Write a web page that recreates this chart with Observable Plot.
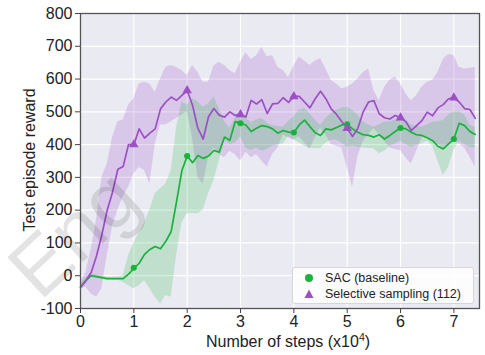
<!DOCTYPE html>
<html><head><meta charset="utf-8">
<script src="https://cdn.jsdelivr.net/npm/d3@7"></script>
<script src="https://cdn.jsdelivr.net/npm/@observablehq/plot@0.6"></script>
<style>
body{margin:0;background:#fff;font-family:"Liberation Sans",Arial,sans-serif;}
#wrap{position:relative;width:485px;height:355px;overflow:hidden;}
#legend{position:absolute;left:292px;top:267px;width:182px;height:37px;background:rgba(255,255,255,0.85);border:1px solid #d6d6d6;border-radius:3px;box-sizing:border-box;font-size:12.5px;color:#222;}
.row{position:absolute;left:0;height:16px;line-height:16px;white-space:nowrap;}
.row span{position:absolute;left:32px;}
#ov{position:absolute;left:0;top:0;pointer-events:none;}
</style></head><body><div id="wrap"></div>
<script>
const steps = [0,0.1,0.2,0.3,0.4,0.5,0.6,0.7,0.8,0.9,1,1.1,1.2,1.3,1.4,1.5,1.6,1.7,1.8,1.9,2,2.1,2.2,2.3,2.4,2.5,2.6,2.7,2.8,2.9,3,3.1,3.2,3.3,3.4,3.5,3.6,3.7,3.8,3.9,4,4.1,4.2,4.3,4.4,4.5,4.6,4.7,4.8,4.9,5,5.1,5.2,5.3,5.4,5.5,5.6,5.7,5.8,5.9,6,6.1,6.2,6.3,6.4,6.5,6.6,6.7,6.8,6.9,7,7.1,7.2,7.3,7.4];

const selMean = [-35,-15,10,60,125,200,255,325,333,400,400,448,420,435,448,509,530,545,535,550,565,520,450,417,485,510,490,484,500,489,492,484,535,524,537,495,524,526,543,529,547,547,530,512,540,563,540,509,492,470,450,425,450,500,530,534,494,482,478,489,482,470,443,458,473,499,488,512,522,540,543,530,510,507,480];
const selHi = [-20,10,80,170,300,340,420,470,475,520,540,585,590,585,560,600,636,641,635,626,611,641,621,590,590,640,651,641,626,616,651,680,660,670,697,667,672,636,626,605,640,667,655,641,655,662,631,596,585,570,575,585,600,620,631,565,534,575,596,606,585,555,534,550,575,590,596,620,660,675,672,636,631,633,636];
const selLo = [-40,-35,-55,-66,-40,60,150,200,240,270,310,330,321,280,400,460,460,470,480,490,500,420,300,280,360,390,370,360,380,370,350,377,360,370,350,331,370,390,430,420,413,425,405,385,420,450,430,400,395,390,330,270,362,410,430,450,430,410,390,385,382,360,341,380,420,425,410,400,392,400,410,402,390,362,331];

const sacMean = [-35,-15,0,-3,-6,-9,-9,-9,-9,5,22,38,65,80,89,82,105,135,225,320,365,345,367,358,365,382,377,423,413,470,465,460,440,450,458,455,448,435,443,438,437,460,475,455,436,428,448,445,452,460,462,448,438,430,428,423,430,417,428,440,451,448,438,430,428,421,412,395,387,402,417,465,458,440,431];
const sacHi = [-25,-5,5,2,-1,-4,-4,-4,0,60,100,130,160,200,250,265,280,320,450,530,520,540,530,515,525,545,510,470,450,480,499,480,468,475,480,465,458,455,453,470,484,505,510,494,475,458,480,495,505,512,514,505,490,470,460,453,460,468,470,475,484,475,460,455,453,460,468,470,473,490,499,500,490,460,453];
const sacLo = [-45,-25,-5,-8,-11,-14,-14,-14,-20,-30,-40,-30,-15,-40,-66,-86,-60,-66,60,160,189,190,189,200,250,290,350,413,400,405,423,390,382,390,380,385,395,400,402,425,415,405,395,390,387,387,405,413,413,405,392,395,392,390,388,387,372,380,395,402,410,400,392,398,402,410,395,350,306,331,382,410,400,392,390];

const markSteps = [1,2,3,4,5,6,7];
const sacMarks = [24,365,465,437,462,451,417];
const selMarks = [400,565,492,547,450,482,543];

const xTicks = [0,1,2,3,4,5,6,7];
const yTicks = [-100,0,100,200,300,400,500,600,700,800];

const seriesNames = ["SAC (baseline)", "Selective sampling (112)"];
const xLabelMain = "Number of steps (x10";
const xLabelSup = "4";
const xLabelEnd = ")";
const yLabel = "Test episode reward";
const watermark = "Eng";

const purple = "#9d4fc6";
const green = "#19b23b";

const rows = steps.map((s,i)=>({s, sm:selMean[i], sh:selHi[i], sl:selLo[i], gm:sacMean[i], gh:sacHi[i], gl:sacLo[i]}));
const marks = markSteps.map((s,i)=>({s, g:sacMarks[i], p:selMarks[i]}));

const chart = Plot.plot({
  width:485, height:355,
  marginLeft:80, marginRight:6, marginTop:13, marginBottom:47,
  style:{background:"transparent", fontFamily:"Liberation Sans, Arial, sans-serif", fontSize:"16px", color:"#222"},
  x:{type:"linear", domain:[0,7.48]},
  y:{type:"linear", domain:[-100,800]},
  marks:[
    Plot.frame({fill:"#eaeaf2"}),
    Plot.gridX(xTicks,{stroke:"#fff", strokeOpacity:1, strokeWidth:1.2}),
    Plot.gridY(yTicks,{stroke:"#fff", strokeOpacity:1, strokeWidth:1.2}),
    Plot.areaY(rows,{x:"s", y1:"sl", y2:"sh", fill:purple, fillOpacity:0.22}),
    Plot.areaY(rows,{x:"s", y1:"gl", y2:"gh", fill:green, fillOpacity:0.2}),
    Plot.line(rows,{x:"s", y:"gm", stroke:green, strokeWidth:1.7}),
    Plot.line(rows,{x:"s", y:"sm", stroke:purple, strokeWidth:1.7}),
    Plot.ruleY(marks,{x1:d=>d.s-0.05, x2:d=>d.s+0.05, y:"g", stroke:green, strokeWidth:1.5}),
    Plot.ruleY(marks,{x1:d=>d.s-0.05, x2:d=>d.s+0.05, y:"p", stroke:purple, strokeWidth:1.5}),
    Plot.dot(marks,{x:"s", y:"g", r:3, fill:green, stroke:"none"}),
    Plot.dot(marks,{x:"s", y:"p", r:3.5, symbol:"triangle", fill:purple, stroke:"none"}),
    Plot.frame({stroke:"#555", strokeWidth:1.3}),
    Plot.axisX(xTicks,{tickSize:5, tickPadding:2, stroke:"#444", label:null, tickFormat:d=>String(d)}),
    Plot.axisY(yTicks,{tickSize:5, tickPadding:3, stroke:"#444", label:null, tickFormat:d=>String(d)})
  ]
});
const wrap = document.getElementById("wrap");
wrap.appendChild(chart);

const svgNS = "http://www.w3.org/2000/svg";
const ov = document.createElementNS(svgNS,"svg");
ov.setAttribute("id","ov"); ov.setAttribute("width","485"); ov.setAttribute("height","355");
ov.setAttribute("font-family","Liberation Sans, Arial, sans-serif");

// watermark
const wt = document.createElementNS(svgNS,"text");
wt.setAttribute("x","40"); wt.setAttribute("y","302");
wt.setAttribute("transform","rotate(-43 40 302)");
wt.setAttribute("font-size","80");
wt.setAttribute("fill","rgba(0,0,0,0.11)");
wt.textContent = watermark;
ov.appendChild(wt);

// y label
const yt = document.createElementNS(svgNS,"text");
yt.setAttribute("x","0"); yt.setAttribute("y","0");
yt.setAttribute("transform","translate(34.5,160) rotate(-90)");
yt.setAttribute("text-anchor","middle");
yt.setAttribute("font-size","16");
yt.setAttribute("fill","#222");
yt.textContent = yLabel;
ov.appendChild(yt);

// x label
const xt = document.createElementNS(svgNS,"text");
xt.setAttribute("x","288"); xt.setAttribute("y","347");
xt.setAttribute("text-anchor","middle");
xt.setAttribute("font-size","16");
xt.setAttribute("fill","#222");
const t1 = document.createElementNS(svgNS,"tspan"); t1.textContent = xLabelMain;
const t2 = document.createElementNS(svgNS,"tspan"); t2.textContent = xLabelSup;
t2.setAttribute("font-size","10.5"); t2.setAttribute("dy","-6");
const t3 = document.createElementNS(svgNS,"tspan"); t3.textContent = xLabelEnd;
t3.setAttribute("dy","6");
xt.appendChild(t1); xt.appendChild(t2); xt.appendChild(t3);
ov.appendChild(xt);
wrap.appendChild(ov);

const leg = document.createElement("div");
leg.id = "legend";
const colors = [green, purple];
seriesNames.forEach((name,i)=>{
  const r = document.createElement("div");
  r.className = "row";
  r.style.top = (2 + i*16) + "px";
  const sv = document.createElementNS(svgNS,"svg");
  sv.setAttribute("width","16"); sv.setAttribute("height","16");
  sv.style.position="absolute"; sv.style.left="8px"; sv.style.top="0px";
  let m;
  if(i===0){ m=document.createElementNS(svgNS,"circle"); m.setAttribute("cx","8"); m.setAttribute("cy","8"); m.setAttribute("r","4"); }
  else { m=document.createElementNS(svgNS,"path"); m.setAttribute("d","M8,3.5L12.5,12L3.5,12Z"); }
  m.setAttribute("fill", colors[i]);
  sv.appendChild(m);
  r.appendChild(sv);
  const t = document.createElement("span"); t.textContent = name;
  r.appendChild(t);
  leg.appendChild(r);
});
wrap.appendChild(leg);
</script>
</body></html>
